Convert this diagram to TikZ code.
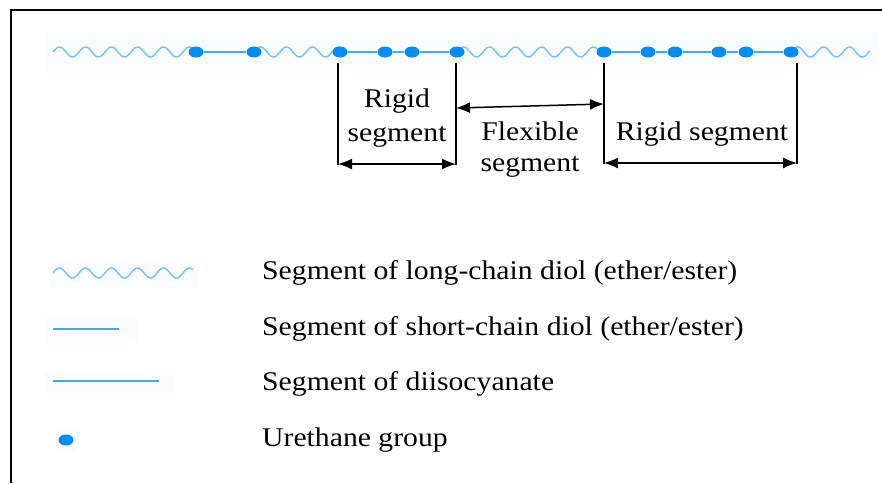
\documentclass[tikz,border=0pt]{standalone}
\usepackage{fontspec}
\setmainfont{Liberation Serif}[FakeStretch=1.1]
\usetikzlibrary{arrows.meta,shapes.geometric}
\definecolor{wavec}{RGB}{120,195,245}
\definecolor{linec}{RGB}{70,168,240}
\definecolor{dotc}{RGB}{0,140,240}
\definecolor{bgc}{RGB}{251,252,253}
\newcommand\wavepath[3]{plot[domain=#1:#2,samples=160] (\x,{#3-5*sin(13.85*(\x-#1))})}
\begin{document}
\begin{tikzpicture}[x=1pt,y=-1pt,
  wave/.style={wavec,line width=1.5pt},
  isoline/.style={linec,line width=2pt},
  shortline/.style={linec,line width=1.2pt},
  urethane/.style={shape=ellipse,fill=dotc,draw=none,minimum width=15pt,minimum height=11pt,inner sep=0pt},
  lbl/.style={font=\fontsize{27}{32}\selectfont,inner sep=0pt,anchor=base},
  leg/.style={font=\fontsize{27}{32}\selectfont,inner sep=0pt,anchor=base west},
  dim/.style={{Latex[length=14pt,width=11pt]}-{Latex[length=14pt,width=11pt]},line width=1.5pt,black},
  tick/.style={line width=1.5pt,black},
  faint/.style={fill=bgc,draw=none}]
\useasboundingbox (0,0) rectangle (882,483);
\fill[white] (0,0) rectangle (882,483);
% frame
\draw[line width=2pt] (11,483) -- (11,10) -- (882,10);
% faint backgrounds
\fill[faint] (45,33) rectangle (877,70);
\fill[faint] (50,262) rectangle (198,287);
\fill[faint] (45,318) rectangle (138,343);
\fill[faint] (45,371) rectangle (175,393);
\fill[faint] (55,430) rectangle (78,452);
% chain
\draw[wave] \wavepath{53}{196}{52};
\draw[wave] \wavepath{254}{340}{52};
\draw[wave] \wavepath{457}{604}{52};
\draw[wave] \wavepath{791}{870}{52};
\node[urethane] (d1) at (196,52) {};
\node[urethane] (d2) at (254,52) {};
\node[urethane] (d3) at (340,52) {};
\node[urethane] (d4) at (385,52) {};
\node[urethane] (d5) at (412,52) {};
\node[urethane] (d6) at (457,52) {};
\node[urethane] (d7) at (604,52) {};
\node[urethane] (d8) at (648,52) {};
\node[urethane] (d9) at (675,52) {};
\node[urethane] (d10) at (719,52) {};
\node[urethane] (d11) at (746,52) {};
\node[urethane] (d12) at (791,52) {};
\draw[isoline] (d1) -- (d2);
\draw[isoline] (d3) -- (d4);
\draw[shortline] (d4) -- (d5);
\draw[isoline] (d5) -- (d6);
\draw[isoline] (d7) -- (d8);
\draw[shortline] (d8) -- (d9);
\draw[isoline] (d9) -- (d10);
\draw[shortline] (d10) -- (d11);
\draw[isoline] (d11) -- (d12);
% dimension ticks
\coordinate (v1t) at (338,63); \coordinate (v1b) at (338,165);
\coordinate (v2t) at (456,63); \coordinate (v2b) at (456,165);
\coordinate (v3t) at (604,63); \coordinate (v3b) at (604,164);
\coordinate (v4t) at (797,63); \coordinate (v4b) at (797,164);
\draw[tick] (v1t) -- (v1b);
\draw[tick] (v2t) -- (v2b);
\draw[tick] (v3t) -- (v3b);
\draw[tick] (v4t) -- (v4b);
\coordinate (a1l) at (338,164); \coordinate (a1r) at (456,164);
\coordinate (a2l) at (456,108); \coordinate (a2r) at (604,104);
\coordinate (a3l) at (604,163); \coordinate (a3r) at (797,163);
\draw[dim] (a1l) -- (a1r);
\draw[dim] (a2l) -- (a2r);
\draw[dim] (a3l) -- (a3r);
% labels
\node[lbl] (r1a) at (397,107) {Rigid};
\node[lbl] (r1b) at (397,141) {segment};
\node[lbl] (f1a) at (530,140) {Flexible};
\node[lbl] (f1b) at (530,171) {segment};
\node[lbl] (r2) at (702,140) {Rigid segment};
% legend
\draw[wave] \wavepath{53}{193}{273};
\coordinate (s1) at (53,329); \coordinate (s2) at (119,329);
\draw[shortline] (s1) -- (s2);
\coordinate (i1) at (53,381); \coordinate (i2) at (159,381);
\draw[isoline] (i1) -- (i2);
\node[urethane] (ld) at (66,440) {};
\node[leg] (t1) at (262,279) {Segment of long-chain diol (ether/ester)};
\node[leg] (t2) at (262,335) {Segment of short-chain diol (ether/ester)};
\node[leg] (t3) at (262,390) {Segment of diisocyanate};
\node[leg] (t4) at (262,446) {Urethane group};
\end{tikzpicture}
\end{document}
